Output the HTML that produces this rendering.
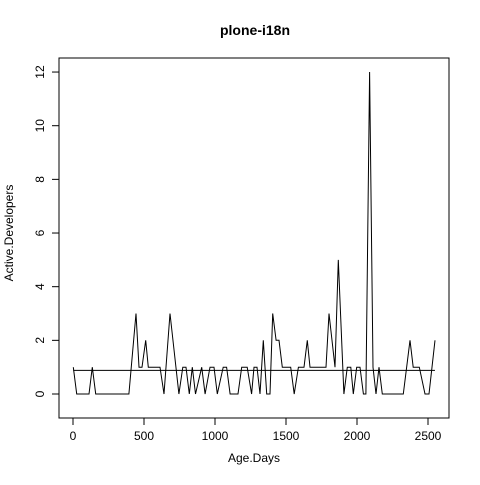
<!DOCTYPE html>
<html><head><meta charset="utf-8"><style>
body{margin:0;background:#fff;}
svg text{font-family:"Liberation Sans",sans-serif;fill:#000;}
</style></head><body>
<svg id="chart" width="480" height="480">
<rect x="0" y="0" width="480" height="480" fill="#fff"/>
<text x="255" y="35" font-size="14" font-weight="bold" text-anchor="middle">plone-i18n</text>
<rect x="59" y="58" width="390" height="360" fill="none" stroke="#000" stroke-width="1"/>
<text x="254" y="462" font-size="12" text-anchor="middle">Age.Days</text>
<text x="13" y="233" font-size="12" text-anchor="middle" transform="rotate(-90 13 233)">Active.Developers</text>
<g id="axes"></g>
<g id="marks"></g>
</svg>
<script>
const days=[2,26,113,136,160,394,444,465,486,512,530,613,641,683,746,773,796,819,840,863,906,930,965,993,1016,1058,1082,1106,1162,1188,1227,1258,1275,1296,1317,1340,1364,1387,1406,1430,1451,1474,1533,1558,1587,1627,1650,1669,1782,1803,1845,1868,1908,1932,1956,1974,1998,2021,2045,2063,2089,2113,2134,2155,2178,2326,2373,2396,2439,2479,2507,2549];
const developers=[1,0,0,1,0,0,3,1,1,2,1,1,0,3,0,1,1,0,1,0,1,0,1,1,0,1,1,0,0,1,1,0,1,1,0,2,0,0,3,2,2,1,1,0,1,1,2,1,1,3,1,5,0,1,1,0,1,1,0,0,12,1,0,1,0,0,2,1,1,0,0,2];
const meanValue=[0.88];
const xTicks=[0,500,1000,1500,2000,2500];
const yTicks=[0,2,4,6,8,10,12];
const NS="http://www.w3.org/2000/svg";
function sx(d){return 73+d*0.142;}
function sy(v){return 394-v*26.83;}
function mk(tag,attrs,parent){const e=document.createElementNS(NS,tag);for(const k in attrs)e.setAttribute(k,attrs[k]);parent.appendChild(e);return e;}
const axes=document.getElementById('axes'),marks=document.getElementById('marks');
const xl=mk('line',{x1:sx(xTicks[0]),x2:sx(xTicks[xTicks.length-1]),y1:418,y2:418,stroke:'#000'},axes);


xTicks.forEach(t=>{
 const l=mk('line',{x1:sx(t),x2:sx(t),y1:418,y2:425,stroke:'#000'},axes);
 
 
 const tx=mk('text',{x:sx(t),y:440,'font-size':12,'text-anchor':'middle'},axes);
 tx.textContent=t;
 
 
});
const yl=mk('line',{x1:59,x2:59,y1:sy(yTicks[0]),y2:sy(yTicks[yTicks.length-1]),stroke:'#000'},axes);


yTicks.forEach(t=>{
 const l=mk('line',{x1:52,x2:59,y1:sy(t),y2:sy(t),stroke:'#000'},axes);
 
 
 const tx=mk('text',{x:44,y:sy(t),'font-size':12,'text-anchor':'middle',transform:`rotate(-90 44 ${sy(t)})`},axes);
 tx.textContent=t;
 
 
});
const pts=days.map((d,i)=>sx(d).toFixed(1)+','+sy(developers[i]).toFixed(1)).join(' ');
const pl=mk('polyline',{points:pts,fill:'none',stroke:'#000','stroke-width':1},marks);


const ml=mk('line',{x1:sx(days[0]),x2:sx(days[days.length-1]),y1:sy(meanValue[0]),y2:sy(meanValue[0]),stroke:'#000','stroke-width':1},marks);


</script>
</body></html>
